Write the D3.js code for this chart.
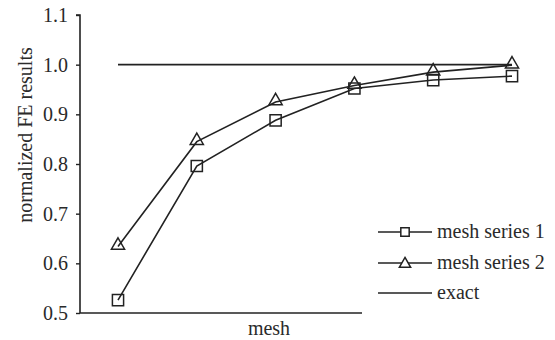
<!DOCTYPE html>
<html>
<head>
<meta charset="utf-8">
<script src="https://cdn.jsdelivr.net/npm/d3@7"></script>
</head>
<body style="margin:0">
<script>
var width = 555, height = 340;
var serif = 'Liberation Serif';

const steps = [1, 2, 3, 4, 5, 6];
const series1 = [0.526, 0.796, 0.888, 0.952, 0.969, 0.977];
const series2 = [0.634, 0.845, 0.925, 0.958, 0.985, 0.999];
const exact = [1.0, 1.0, 1.0, 1.0, 1.0, 1.0];
const yTicks = [0.5, 0.6, 0.7, 0.8, 0.9, 1.0, 1.1];
const legendNames = ['mesh series 1', 'mesh series 2', 'exact'];

var svg = d3.select('body').append('svg')
	.attr('width', width).attr('height', height)
	.style('font-family', serif);

var x = d3.scaleLinear().domain([1, 6]).range([118, 512]);
var y = d3.scaleLinear().domain([0.5, 1.1]).range([313, 15]);

// axes
var yAxis = d3.axisLeft(y).tickValues(yTicks).tickFormat(d3.format('.1f')).tickSize(4).tickPadding(8);
var yG = svg.append('g').attr('transform', 'translate(80,0)').call(yAxis);
yG.attr('font-family', serif).attr('font-size', 20);
yG.select('.domain').attr('stroke', '#222').attr('stroke-width', 1.6).attr('d', 'M-4,15H0V313');
yG.selectAll('.tick line').attr('stroke', '#222').attr('stroke-width', 1.4);
yG.selectAll('.tick text').attr('fill', '#2a2a2a').style('font-family', serif).style('font-size', '20px');

svg.append('line')
	.attr('x1', 80).attr('x2', 362)
	.attr('y1', y(0.5)).attr('y2', y(0.5))
	.attr('stroke', '#222').attr('stroke-width', 1.6);

svg.append('text')
	.attr('transform', 'translate(32,135) rotate(-90)')
	.attr('text-anchor', 'middle')
	.attr('fill', '#2a2a2a')
	.style('font-family', serif).style('font-size', '20px')
	.text('normalized FE results');

svg.append('text')
	.attr('x', 269).attr('y', 335)
	.attr('text-anchor', 'middle')
	.attr('fill', '#2a2a2a')
	.style('font-family', serif).style('font-size', '20px')
	.text('mesh');

var line = d3.line().x(function(d, i){ return x(steps[i]); }).y(function(d){ return y(d); });

svg.append('path').datum(exact).attr('d', line)
	.attr('fill', 'none').attr('stroke', '#222').attr('stroke-width', 1.6);
svg.append('path').datum(series1).attr('d', line)
	.attr('fill', 'none').attr('stroke', '#222').attr('stroke-width', 1.6);
svg.append('path').datum(series2).attr('d', line)
	.attr('fill', 'none').attr('stroke', '#222').attr('stroke-width', 1.6);

var sq = d3.symbol().type(d3.symbolSquare).size(125);
var tri = d3.symbol().type(d3.symbolTriangle).size(75);

svg.selectAll('.s1').data(series1).enter().append('path')
	.attr('class', 's1')
	.attr('d', sq)
	.attr('transform', function(d, i){ return 'translate(' + x(steps[i]) + ',' + y(d) + ')'; })
	.attr('fill', 'none').attr('stroke', '#222').attr('stroke-width', 1.5);

svg.selectAll('.s2').data(series2).enter().append('path')
	.attr('class', 's2')
	.attr('d', tri)
	.attr('transform', function(d, i){ return 'translate(' + x(steps[i]) + ',' + (y(d) - 1) + ')'; })
	.attr('fill', 'none').attr('stroke', '#222').attr('stroke-width', 1.5);

// legend
var legendY = [232, 263, 293];
var lg = svg.append('g');
legendNames.forEach(function(name, i){
	lg.append('line')
		.attr('x1', 378).attr('x2', 432)
		.attr('y1', legendY[i]).attr('y2', legendY[i])
		.attr('stroke', '#222').attr('stroke-width', 1.6);
	if (i < 2) {
		lg.append('path')
			.attr('d', i === 0 ? d3.symbol().type(d3.symbolSquare).size(70) : d3.symbol().type(d3.symbolTriangle).size(55))
			.attr('transform', 'translate(405,' + (legendY[i] + (i === 1 ? 1 : 0)) + ')')
			.attr('fill', '#fff').attr('stroke', '#222').attr('stroke-width', 1.5);
	}
	lg.append('text')
		.attr('x', 437).attr('y', legendY[i])
		.attr('dy', '0.3em')
		.attr('fill', '#2a2a2a')
		.style('font-family', serif).style('font-size', '20px')
		.text(name);
});
</script>
</body>
</html>
